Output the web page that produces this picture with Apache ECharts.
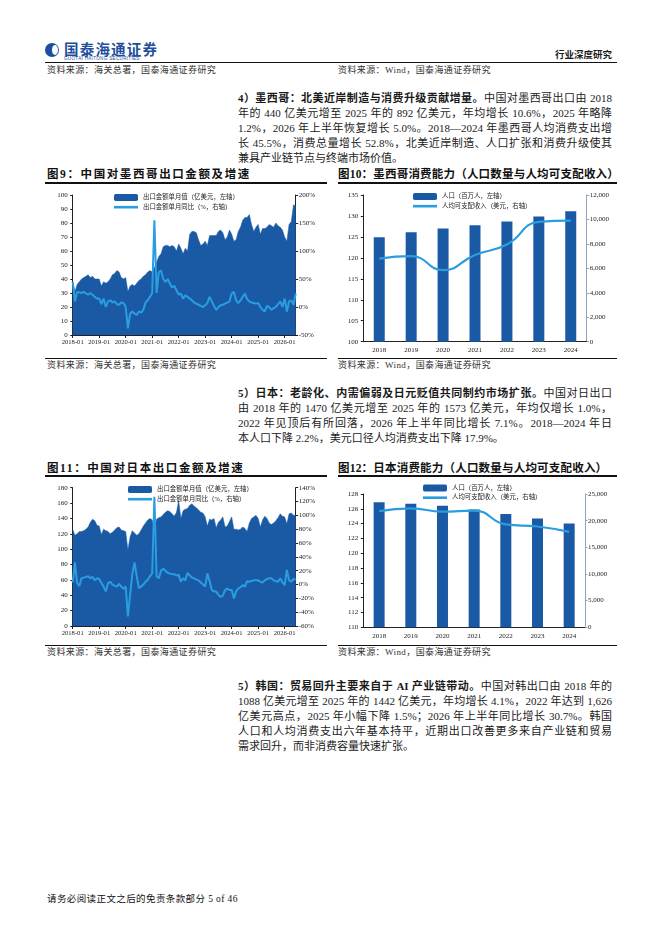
<!DOCTYPE html>
<html>
<head>
<meta charset="utf-8" />
<title>行业深度研究 - 墨西哥与日本</title>
<script src="https://cdn.jsdelivr.net/npm/echarts@6/dist/echarts.min.js"></script>
<style>
  body { margin:0; width:662px; height:936px; position:relative; overflow:hidden; background:#fff;
         font-family:"Liberation Serif","Noto Sans CJK SC",serif; color:#1a1a1a; }
  .abs { position:absolute; white-space:nowrap; }
  .rule { position:absolute; background:#111; height:1px; }
  .src { position:absolute; font-size:9px; line-height:12px; color:#333; letter-spacing:0.4px; white-space:nowrap; }
  .ttl { position:absolute; font-size:11.5px; line-height:14px; font-weight:bold; letter-spacing:1.6px; white-space:nowrap; color:#111; }
  .ttl.wide { letter-spacing:0.2px; }
  .ln { position:absolute; left:238px; width:374px; font-size:11px; line-height:14px; white-space:nowrap;
        text-align:justify; text-align-last:justify; }
  .ln.last { text-align:left; text-align-last:left; }
  .ln b { font-weight:bold; }
  .chart { position:absolute; }
</style>
</head>
<body>

<!-- 页眉 -->
<div class="abs" style="left:45px;top:43px;width:14px;height:14px;border-radius:50%;background:#1d4f9c;"></div>
<div class="abs" style="left:52px;top:45px;width:6px;height:10px;border-radius:50%;background:#fff;"></div>
<div class="abs" style="left:64px;top:41px;font-size:14.5px;line-height:16px;font-weight:bold;color:#1d4f9c;font-family:'Noto Sans CJK SC';letter-spacing:1.2px;">国泰海通证券</div>
<div class="abs" style="left:64px;top:56px;font-size:4.6px;line-height:5px;color:#1d4f9c;font-family:'Liberation Sans';letter-spacing:0.3px;">GUOTAI HAITONG SECURITIES</div>
<div class="abs" style="left:555px;top:49px;font-size:9.5px;line-height:12px;font-weight:bold;">行业深度研究</div>
<div class="rule" style="left:45px;top:62px;width:572px;"></div>
<div class="src" style="left:47px;top:64px;">资料来源：海关总署，国泰海通证券研究</div>
<div class="src" style="left:338px;top:64px;">资料来源：Wind，国泰海通证券研究</div>

<!-- 墨西哥段落 -->
<div class="ln" style="top:91px;"><b>4）墨西哥：北美近岸制造与消费升级贡献增量。</b>中国对墨西哥出口由 2018</div>
<div class="ln" style="top:106px;">年的 440 亿美元增至 2025 年的 892 亿美元，年均增长 10.6%，2025 年略降</div>
<div class="ln" style="top:121px;">1.2%，2026 年上半年恢复增长 5.0%。2018—2024 年墨西哥人均消费支出增</div>
<div class="ln" style="top:136px;">长 45.5%，消费总量增长 52.8%，北美近岸制造、人口扩张和消费升级使其</div>
<div class="ln last" style="top:151px;">兼具产业链节点与终端市场价值。</div>

<div class="ttl" style="left:47px;top:167px;">图9：中国对墨西哥出口金额及增速</div>
<div class="ttl wide" style="left:338px;top:167px;">图10：墨西哥消费能力（人口数量与人均可支配收入）</div>
<div class="rule" style="left:45px;top:182px;width:282px;height:1.5px;"></div>
<div class="rule" style="left:338px;top:182px;width:279px;height:1.5px;"></div>

<div id="c9" class="chart" style="left:30px;top:185px;width:300px;height:168px;"></div>
<div id="c10" class="chart" style="left:330px;top:185px;width:300px;height:170px;"></div>

<div class="rule" style="left:45px;top:358px;width:282px;"></div>
<div class="rule" style="left:338px;top:358px;width:279px;"></div>
<div class="src" style="left:47px;top:359px;">资料来源：海关总署，国泰海通证券研究</div>
<div class="src" style="left:338px;top:359px;">资料来源：Wind，国泰海通证券研究</div>

<!-- 日本段落 -->
<div class="ln" style="top:386px;"><b>5）日本：老龄化、内需偏弱及日元贬值共同制约市场扩张。</b>中国对日出口</div>
<div class="ln" style="top:401px;">由 2018 年的 1470 亿美元增至 2025 年的 1573 亿美元，年均仅增长 1.0%，</div>
<div class="ln" style="top:416px;">2022 年见顶后有所回落，2026 年上半年同比增长 7.1%。2018—2024 年日</div>
<div class="ln last" style="top:431px;">本人口下降 2.2%，美元口径人均消费支出下降 17.9%。</div>

<div class="ttl" style="left:47px;top:461px;">图11：中国对日本出口金额及增速</div>
<div class="ttl wide" style="left:338px;top:461px;">图12：日本消费能力（人口数量与人均可支配收入）</div>
<div class="rule" style="left:45px;top:475px;width:282px;height:1.5px;"></div>
<div class="rule" style="left:338px;top:475px;width:279px;height:1.5px;"></div>

<div id="c11" class="chart" style="left:30px;top:478px;width:300px;height:162px;"></div>
<div id="c12" class="chart" style="left:330px;top:478px;width:300px;height:162px;"></div>

<div class="rule" style="left:45px;top:645px;width:282px;"></div>
<div class="rule" style="left:338px;top:645px;width:279px;"></div>
<div class="src" style="left:47px;top:646px;">资料来源：海关总署，国泰海通证券研究</div>
<div class="src" style="left:338px;top:646px;">资料来源：Wind，国泰海通证券研究</div>

<!-- 韩国段落 -->
<div class="ln" style="top:679px;"><b>5）韩国：贸易回升主要来自于 AI 产业链带动。</b>中国对韩出口由 2018 年的</div>
<div class="ln" style="top:694px;">1088 亿美元增至 2025 年的 1442 亿美元，年均增长 4.1%，2022 年达到 1,626</div>
<div class="ln" style="top:709px;">亿美元高点，2025 年小幅下降 1.5%；2026 年上半年同比增长 30.7%。韩国</div>
<div class="ln" style="top:724px;">人口和人均消费支出六年基本持平，近期出口改善更多来自产业链和贸易</div>
<div class="ln last" style="top:739px;">需求回升，而非消费容量快速扩张。</div>

<div class="src" style="left:47px;top:893px;font-size:9.5px;color:#111;">请务必阅读正文之后的免责条款部分 5 of 46</div>

<script type="text/javascript">
  // ---- 数据（月度 2018-01 ~ 2026-06，102 个点）----
  var mxExport = [
    38, 31, 36, 38, 40, 41, 42, 43, 41, 42, 40, 40,   // 2018
    40, 35, 38, 37, 38, 40, 43, 44, 46, 45, 41, 40,   // 2019
    41, 31, 35, 36, 35, 37, 39, 40, 42, 43, 45, 46,   // 2020
    45, 48, 52, 56, 58, 63, 64, 64, 63, 64, 63, 60,   // 2021
    65, 62, 58, 62, 60, 72, 74, 74, 73, 68, 64, 65,   // 2022
    67, 64, 71, 71, 71, 71, 74, 75, 73, 68, 70, 75,   // 2023
    72, 67, 68, 74, 77, 82, 84, 84, 86, 79, 74, 77,   // 2024
    79, 72, 76, 76, 77, 79, 78, 77, 80, 78, 77, 75,   // 2025
    70, 67, 79, 81, 93, 92                            // 2026H1
  ];
  var mxYoy = [
    45, 10, 27, 26, 25, 27, 24, 22, 25, 22, 18, 15,
    15, 5, 15, 0, 10, 12, 8, 10, 5, 4, 8, 7,
    0, -38, -12, -8, -12, -14, -8, -10, -5, 8, 12, 18,
    25, 155, 25, 62, 65, 50, 45, 50, 42, 35, 38, 30,
    22, 24, 15, 21, 18, 15, 12, 8, 6, 4, 2, 0,
    3, 7, 18, 10, 2, -5, 0, 3, 4, 6, 8, 10,
    24, 27, 12, 7, 12, 18, 24, 14, 10, 8, 7, 6,
    7, 0, -5, -8, 2, 0, -5, -2, 0, 5, 10, 0,
    15, -8, 10, 12, 4, 24
  ];
  var jpExport = [
    126, 118, 120, 123, 123, 124, 126, 129, 135, 139, 137, 131,
    130, 119, 126, 124, 123, 120, 122, 125, 128, 129, 125, 124,
    123, 99, 116, 124, 121, 118, 120, 125, 130, 134, 138, 140,
    138, 127, 139, 141, 142, 145, 148, 150, 149, 146, 143, 148,
    163, 140, 150, 152, 153, 157, 159, 156, 154, 151, 148, 147,
    142, 130, 139, 138, 140, 128, 135, 138, 142, 129, 130, 136,
    142, 126, 126, 125, 126, 129, 127, 123, 134, 140, 142, 144,
    140, 129, 138, 143, 140, 134, 132, 134, 137, 141, 146, 143,
    142, 133, 146, 147, 144, 144
  ];
  var jpYoy = [
    3, 32, 2, -2, 9, 10, 11, 12, 9, 11, 6, 9,
    8, 2, -3, -10, 2, 4, 0, -2, -3, 1, -3, -6,
    -3, -46, -15, 15, 32, 12, -5, -3, 0, 4, 7, 12,
    16, 127, 12, 9, 20, 23, 20, 17, 16, 15, 15, 13,
    14, 4, 9, 6, 17, 13, 10, 9, 7, 6, 3, 0,
    -3, 16, 5, -8, -10, -10, -15, -18, -16, -8, -6, -8,
    -8, -20, -10, -6, -4, -1, -3, 5, 4, 5, 6, 6,
    6, 4, 3, 6, 8, 9, 9, 6, 5, 4, 9, 3,
    -1, 21, 6, 4, 8, 7
  ];

  // ---- 年度数据 ----
  var years = ['2018', '2019', '2020', '2021', '2022', '2023', '2024'];
  var mxPop = [124.9, 126.1, 127.0, 127.8, 128.7, 129.9, 131.1];
  var mxIncome = [6800, 7000, 5850, 7100, 7950, 9800, 9900];
  var jpPop = [126.9, 126.7, 126.4, 125.9, 125.3, 124.7, 124.0];
  var jpIncome = [21800, 22300, 21700, 21900, 19300, 18900, 17900];

  var months = [];
  for (var y = 2018; y <= 2026; y++) {
    for (var m = 1; m <= 12; m++) {
      if (months.length < mxExport.length) months.push(y + '-' + (m < 10 ? '0' + m : m));
    }
  }

  var FONT = '"Liberation Serif","Noto Sans CJK SC",serif';
  var DARK = '#1a5aa5';
  var LIGHT = '#2a9de0';

  function thousands(v) {
    return String(v).replace(/\B(?=(\d{3})+(?!\d))/g, ',');
  }

  function valAxis(min, max, step, pos, fmt, lineColor) {
    return {
      type: 'value', position: pos, min: min, max: max, interval: step,
      axisLine: { show: true, lineStyle: { color: lineColor || '#222', width: 1 } },
      axisTick: { show: true, length: 2.5, lineStyle: { color: lineColor || '#222' } },
      splitLine: { show: false },
      axisLabel: { fontSize: 7, color: '#222', fontFamily: FONT, margin: pos === 'left' ? 5 : 3, formatter: fmt }
    };
  }

  // 两个图例：柱/面积用圆角块，折线用细长条
  function legends(left, top, barName, lineName) {
    var txt = { fontSize: 6.4, color: '#222', fontFamily: FONT };
    return [
      { left: left, top: top, itemWidth: 24, itemHeight: 7, textStyle: txt,
        data: [{ name: barName, icon: 'roundRect' }] },
      { left: left, top: top + 10, itemWidth: 24, itemHeight: 2.6, textStyle: txt,
        data: [{ name: lineName, icon: 'rect' }] }
    ];
  }

  function monthly(id, cfg) {
    var chart = echarts.init(document.getElementById(id));
    var a = '出口金额单月值（亿美元，左轴）', b = '出口金额单月同比（%，右轴）';
    chart.setOption({
      animation: false,
      textStyle: { fontFamily: FONT },
      grid: { left: 42.7, right: 34.3, top: cfg.top, bottom: cfg.bottom, outerBoundsMode: 'none' },
      legend: legends(cfg.legendLeft, cfg.legendTop, a, b),
      xAxis: {
        type: 'category', data: months, boundaryGap: false,
        axisLine: { lineStyle: { color: '#222' } },
        axisTick: { interval: 11, length: 3, lineStyle: { color: '#222' } },
        axisLabel: { interval: 11, fontSize: 6.6, color: '#222', fontFamily: FONT, margin: 4 }
      },
      yAxis: [
        valAxis(cfg.left[0], cfg.left[1], cfg.left[2], 'left'),
        valAxis(cfg.right[0], cfg.right[1], cfg.right[2], 'right', '{value}%')
      ],
      series: [
        {
          name: a, type: 'line', data: cfg.area,
          symbol: 'none', color: DARK, lineStyle: { width: 0.5, color: DARK },
          areaStyle: { color: DARK, opacity: 1 }
        },
        {
          name: b, type: 'line', yAxisIndex: 1, data: cfg.line,
          symbol: 'none', color: LIGHT, lineStyle: { width: 2, color: LIGHT }
        }
      ]
    });
  }

  function annual(id, cfg) {
    var chart = echarts.init(document.getElementById(id));
    var a = '人口（百万人，左轴）', b = '人均可支配收入（美元，右轴）';
    chart.setOption({
      animation: false,
      textStyle: { fontFamily: FONT },
      grid: { left: 33.3, right: cfg.right, top: cfg.top, bottom: cfg.bottom, outerBoundsMode: 'none' },
      legend: legends(cfg.legendLeft, cfg.legendTop, a, b),
      xAxis: {
        type: 'category', data: years,
        axisLine: { lineStyle: { color: '#222' } },
        axisTick: { length: 3, lineStyle: { color: '#222' } },
        axisLabel: { fontSize: 7, color: '#222', fontFamily: FONT, margin: 5 }
      },
      yAxis: [
        valAxis(cfg.left[0], cfg.left[1], cfg.left[2], 'left'),
        valAxis(cfg.rightAx[0], cfg.rightAx[1], cfg.rightAx[2], 'right', thousands, '#8fa6b8')
      ],
      series: [
        {
          name: a, type: 'bar', data: cfg.bars, barWidth: 11,
          color: DARK, itemStyle: { color: DARK }
        },
        {
          name: b, type: 'line', yAxisIndex: 1, data: cfg.line,
          smooth: true, symbol: 'none', color: LIGHT, lineStyle: { width: 2.2, color: LIGHT }
        }
      ]
    });
  }

  monthly('c9', {
    top: 10, bottom: 18, legendLeft: 79, legendTop: 4,
    left: [0, 100, 10], right: [-50, 200, 50],
    area: mxExport, line: mxYoy
  });
  annual('c10', {
    top: 10, bottom: 13.3, right: 43.3, legendLeft: 78, legendTop: 3,
    left: [100, 135, 5], rightAx: [0, 12000, 2000],
    bars: mxPop, line: mxIncome
  });
  monthly('c11', {
    top: 9.7, bottom: 14, legendLeft: 93, legendTop: 3,
    left: [0, 180, 20], right: [-60, 140, 20],
    area: jpExport, line: jpYoy
  });
  annual('c12', {
    top: 16, bottom: 12.7, right: 45, legendLeft: 88, legendTop: 1.5,
    left: [110, 128, 2], rightAx: [0, 25000, 5000],
    bars: jpPop, line: jpIncome
  });
</script>
</body>
</html>
